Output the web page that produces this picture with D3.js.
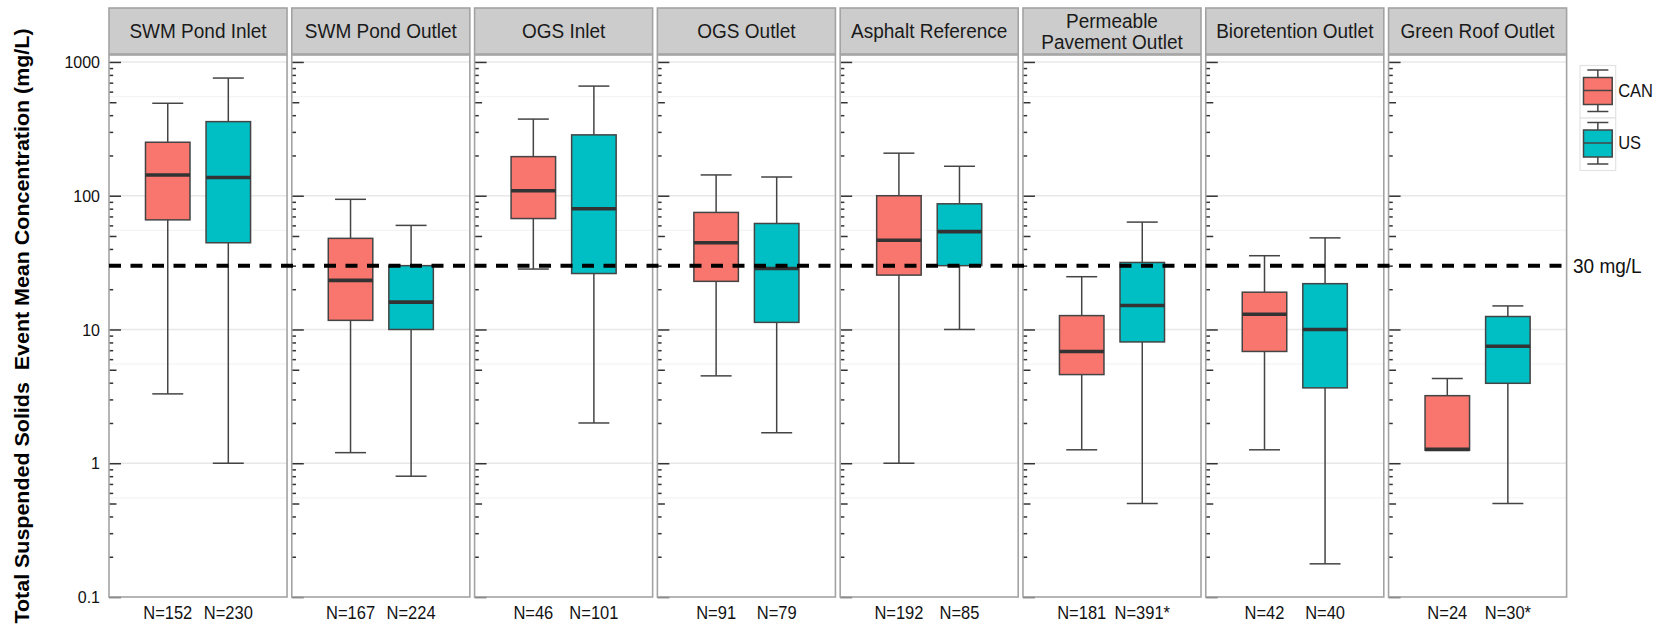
<!DOCTYPE html>
<html><head><meta charset="utf-8">
<script src="https://cdn.jsdelivr.net/npm/d3@7/dist/d3.min.js"></script>
<style>
html,body{margin:0;padding:0;background:#fff;}
svg{display:block;font-family:"Liberation Sans",Arial,sans-serif;}
</style></head>
<body>
<svg id="chart" width="1662" height="632"></svg>
<script>
// ---------- data ----------
const facets = ["SWM Pond Inlet","SWM Pond Outlet","OGS Inlet","OGS Outlet","Asphalt Reference","Permeable Pavement Outlet","Bioretention Outlet","Green Roof Outlet"];
const groups = ["CAN","US"];
const canLow  = [3.3, 1.2, 28.3, 4.5, 1.0, 1.26, 1.26, 1.25];
const canQ1   = [66, 11.7, 67.5, 22.9, 25.5, 4.6, 6.85, 1.25];
const canMed  = [143, 23.3, 109, 44.5, 46.4, 6.85, 13.0, 1.27];
const canQ3   = [251, 48, 196, 75, 100, 12.7, 19.0, 3.2];
const canHigh = [491, 94, 374, 143, 208, 24.8, 35.6, 4.3];
const usLow   = [1.0, 0.8, 2.0, 1.69, 10, 0.5, 0.177, 0.5];
const usQ1    = [44.5, 10, 26.2, 11.3, 30, 8.07, 3.66, 3.96];
const usMed   = [137, 16, 80, 28.6, 53.9, 15.1, 10, 7.5];
const usQ3    = [358, 30, 285, 62, 87, 31.7, 22, 12.5];
const usHigh  = [758, 60, 660, 138, 166, 63.5, 48.4, 15];
const canN = ["N=152","N=167","N=46","N=91","N=192","N=181","N=42","N=24"];
const usN  = ["N=230","N=224","N=101","N=79","N=85","N=391*","N=40","N=30*"];
const majorTicks = [0.1, 1, 10, 100, 1000];
const tickLabels = ["0.1","1","10","100","1000"];
const midTicks = [0.5, 5, 50, 500];
const minorTicks = [0.2,0.3,0.4,0.6,0.7,0.8,0.9,2,3,4,6,7,8,9,20,30,40,60,70,80,90,200,300,400,600,700,800,900];
const minorGrid = [0.55, 5.5, 55, 550];
const threshold = 30;
const thresholdLabel = "30 mg/L";
const yTitle = "Total Suspended Solids  Event Mean Concentration (mg/L)";
const colors = {CAN:"#F8766D", US:"#00BFC4"};

const rows = [];
facets.forEach((f,i)=>{
  rows.push({facet:f, g:"CAN", low:canLow[i], q1:canQ1[i], med:canMed[i], q3:canQ3[i], high:canHigh[i], n:canN[i]});
  rows.push({facet:f, g:"US",  low:usLow[i],  q1:usQ1[i],  med:usMed[i],  q3:usQ3[i],  high:usHigh[i],  n:usN[i]});
});

const SY = 1.08; // slight vertical stretch of the original figure's text

// ---------- layout ----------
const svg = d3.select("#chart");
const panelTop = 55, panelBottom = 597, stripTop = 8;
const fx = d3.scaleBand().domain(facets).range([109, 1566.6]).paddingInner(0.026).paddingOuter(0);
const bw = fx.bandwidth();
const xg = d3.scalePoint().domain(groups).range([0, bw]).padding(0.97);
const boxW = bw * 0.25, capW = bw * 0.174;
const y = d3.scaleLog().domain([0.1, Math.pow(10, 3.052)]).range([panelBottom, panelTop]);

function stext(parent, x, yy, size, str, anchor){
  return parent.append("text")
    .attr("transform", `translate(${x},${yy}) scale(1,${SY})`)
    .attr("text-anchor", anchor || "start")
    .attr("font-size", size).attr("fill", "#111").text(str);
}

// panels
const panels = svg.selectAll("g.panel").data(facets).join("g")
  .attr("class","panel").attr("transform", d => `translate(${fx(d)},0)`);

panels.append("rect").attr("x",0).attr("y",panelTop).attr("width",bw).attr("height",panelBottom-panelTop)
  .attr("fill","#fff");

// grid
panels.each(function(){
  const g = d3.select(this);
  g.selectAll("line.mg").data(minorGrid).join("line")
    .attr("x1",0).attr("x2",bw).attr("y1",d=>y(d)).attr("y2",d=>y(d))
    .attr("stroke","#f4f4f4").attr("stroke-width",1.2);
  g.selectAll("line.Mg").data([1,10,100,1000]).join("line")
    .attr("x1",0).attr("x2",bw).attr("y1",d=>y(d)).attr("y2",d=>y(d))
    .attr("stroke","#e8e8e8").attr("stroke-width",1.4);
});

// inward ticks per panel
function tickAxis(vals, size){
  return d3.axisRight(y).tickValues(vals).tickSize(size).tickFormat("");
}
panels.each(function(){
  const g = d3.select(this);
  [[majorTicks,12],[midTicks,7.5],[minorTicks,4.2]].forEach(([v,s])=>{
    const a = g.append("g").call(tickAxis(v,s));
    a.select(".domain").remove();
    a.selectAll("line").attr("stroke","#333").attr("stroke-width",1.5);
  });
});

// threshold dashed line
svg.append("line")
  .attr("x1", fx(facets[0])).attr("x2", fx(facets[facets.length-1]) + bw)
  .attr("y1", y(threshold)).attr("y2", y(threshold))
  .attr("stroke","#000").attr("stroke-width",4).attr("stroke-dasharray","12,9.5");

// boxes
const bx = panels.selectAll("g.box").data(f => rows.filter(r => r.facet === f)).join("g")
  .attr("class","box").attr("transform", d => `translate(${xg(d.g)},0)`);
bx.append("line").attr("x1",0).attr("x2",0).attr("y1",d=>y(d.high)).attr("y2",d=>y(d.q3))
  .attr("stroke","#444").attr("stroke-width",1.5);
bx.append("line").attr("x1",0).attr("x2",0).attr("y1",d=>y(d.q1)).attr("y2",d=>y(d.low))
  .attr("stroke","#444").attr("stroke-width",1.5);
bx.append("line").attr("x1",-capW/2).attr("x2",capW/2).attr("y1",d=>y(d.high)).attr("y2",d=>y(d.high))
  .attr("stroke","#444").attr("stroke-width",1.5);
bx.append("line").attr("x1",-capW/2).attr("x2",capW/2).attr("y1",d=>y(d.low)).attr("y2",d=>y(d.low))
  .attr("stroke","#444").attr("stroke-width",1.5).attr("display", d => d.low < d.q1 ? null : "none");
bx.append("rect").attr("x",-boxW/2).attr("width",boxW)
  .attr("y",d=>y(d.q3)).attr("height",d=>y(d.q1)-y(d.q3))
  .attr("fill",d=>colors[d.g]).attr("stroke","#444").attr("stroke-width",1.5);
bx.append("line").attr("x1",-boxW/2).attr("x2",boxW/2).attr("y1",d=>y(d.med)).attr("y2",d=>y(d.med))
  .attr("stroke","#333").attr("stroke-width",3.6);
bx.each(function(d){ stext(d3.select(this), 0, 618.5, 16.5, d.n, "middle"); });

// panel border
panels.append("rect").attr("x",0).attr("y",panelTop).attr("width",bw).attr("height",panelBottom-panelTop)
  .attr("fill","none").attr("stroke","#a3a3a3").attr("stroke-width",1.6);

// strips
panels.append("rect").attr("x",0).attr("y",stripTop).attr("width",bw).attr("height",panelTop-stripTop-1)
  .attr("fill","#cccccc").attr("stroke","#a3a3a3").attr("stroke-width",1.6);
panels.each(function(f){
  const g = d3.select(this);
  if (f === "Permeable Pavement Outlet") {
    stext(g, bw/2, 27.5, 19, "Permeable", "middle").attr("fill","#1a1a1a");
    stext(g, bw/2, 49, 19, "Pavement Outlet", "middle").attr("fill","#1a1a1a");
  } else {
    stext(g, bw/2, 38, 19, f, "middle").attr("fill","#1a1a1a");
  }
});

// y axis labels (left of first panel)
const ya = svg.append("g").attr("transform",`translate(${fx(facets[0])},0)`)
  .call(d3.axisLeft(y).tickValues(majorTicks).tickSize(0).tickPadding(9)
    .tickFormat((d,i)=>tickLabels[i]));
ya.select(".domain").remove();
ya.selectAll("text").attr("font-size",16).attr("fill","#111")
  .attr("font-family","Liberation Sans, Arial, sans-serif").attr("transform",`scale(1,${SY})`);

// y title
svg.append("text").attr("transform","translate(29,326) rotate(-90) scale(1.1,1)")
  .attr("text-anchor","middle").attr("font-size",19.5).attr("font-weight","bold").attr("fill","#000")
  .attr("xml:space","preserve").style("white-space","pre").text(yTitle);

// threshold label
stext(svg, 1573, y(threshold)+7, 19, thresholdLabel);

// legend
const lg = svg.append("g").attr("class","legend");
const keyX = 1580, keyW = 35.7, keyH = 52.5, keyY0 = 65.5;
groups.forEach((gname,i)=>{
  const k = lg.append("g").attr("transform",`translate(${keyX},${keyY0 + i*keyH})`);
  k.append("rect").attr("width",keyW).attr("height",keyH).attr("fill","#fff").attr("stroke","#e3e3e3").attr("stroke-width",1.2);
  const cx = keyW/2;
  k.append("line").attr("x1",cx).attr("x2",cx).attr("y1",4.5).attr("y2",keyH-6.5).attr("stroke","#444").attr("stroke-width",1.5);
  k.append("line").attr("x1",cx-10.5).attr("x2",cx+10.5).attr("y1",4.5).attr("y2",4.5).attr("stroke","#444").attr("stroke-width",1.5);
  k.append("line").attr("x1",cx-10.5).attr("x2",cx+10.5).attr("y1",keyH-6.5).attr("y2",keyH-6.5).attr("stroke","#444").attr("stroke-width",1.5);
  k.append("rect").attr("x",3.5).attr("y",12).attr("width",keyW-7).attr("height",27)
    .attr("fill",colors[gname]).attr("stroke","#444").attr("stroke-width",1.5);
  k.append("line").attr("x1",3.5).attr("x2",keyW-3.5).attr("y1",25).attr("y2",25).attr("stroke","#444").attr("stroke-width",1.5);
  stext(k, keyW+2.5, 31, 16.5, gname);
});
</script>
</body></html>
